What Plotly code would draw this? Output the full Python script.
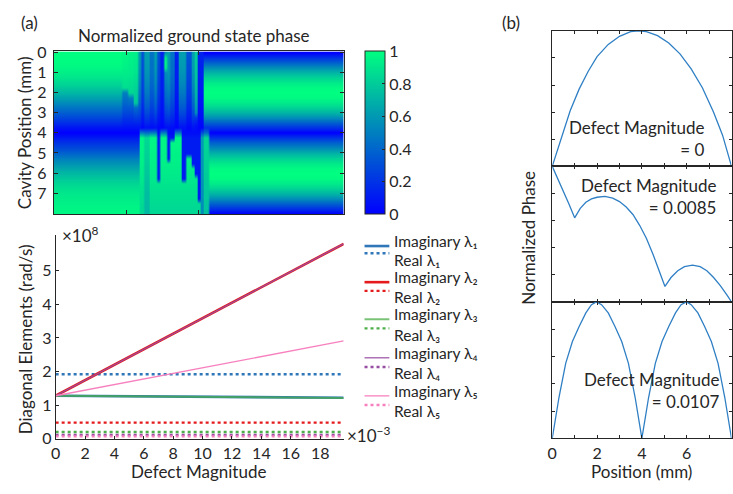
import numpy as np
import plotly.graph_objects as go

W, H = 733, 494
FONT = "Lato"
TXT = "#262626"


def px(x):
    return x / W


def py(y):
    return 1 - y / H


# ---------------- (a) top: normalized ground state phase heatmap ----------------
positions_mm = [0.0, 0.25, 0.5, 0.75, 1.0, 1.25, 1.5, 1.75, 2.0, 2.25, 2.5, 2.75,
                3.0, 3.25, 3.5, 3.75, 4.0, 4.25, 4.5, 4.75, 5.0, 5.25, 5.5, 5.75,
                6.0, 6.25, 6.5, 6.75, 7.0, 7.25, 7.5, 7.75, 8.0]

# top-half profiles (0..4 mm), bottom-half profiles (4..8 mm)
top_profiles = {
    "L":  [1.0, 1.0, 0.99, 0.97, 0.94, 0.9, 0.85, 0.79, 0.72, 0.64, 0.55, 0.46, 0.37, 0.28, 0.18, 0.08, 0.0],
    "S1": [0.97, 0.97, 0.96, 0.95, 0.93, 0.91, 0.89, 0.87, 0.5, 0.45, 0.4, 0.34, 0.28, 0.21, 0.14, 0.07, 0.0],
    "S2": [0.95, 0.95, 0.94, 0.93, 0.92, 0.9, 0.88, 0.86, 0.84, 0.5, 0.42, 0.35, 0.28, 0.21, 0.14, 0.07, 0.0],
    "S3": [0.93, 0.93, 0.92, 0.91, 0.9, 0.88, 0.86, 0.84, 0.82, 0.8, 0.78, 0.42, 0.33, 0.24, 0.15, 0.07, 0.0],
    "T":  [0.62, 0.62, 0.61, 0.6, 0.58, 0.56, 0.54, 0.51, 0.48, 0.44, 0.4, 0.35, 0.29, 0.22, 0.15, 0.07, 0.0],
    "B":  [0.32, 0.32, 0.31, 0.3, 0.29, 0.28, 0.26, 0.25, 0.23, 0.21, 0.19, 0.16, 0.13, 0.1, 0.07, 0.03, 0.0],
    "M":  [0.45, 0.45, 0.44, 0.44, 0.43, 0.41, 0.4, 0.38, 0.35, 0.32, 0.29, 0.25, 0.21, 0.16, 0.11, 0.05, 0.0],
    "D":  [0.13, 0.13, 0.13, 0.12, 0.12, 0.12, 0.11, 0.11, 0.1, 0.09, 0.08, 0.07, 0.06, 0.05, 0.03, 0.02, 0.0],
    "SP": [0.55, 0.92, 0.95, 0.92, 0.55, 0.53, 0.5, 0.47, 0.44, 0.4, 0.36, 0.31, 0.26, 0.2, 0.13, 0.06, 0.0],
    "TG": [0.8, 0.8, 0.79, 0.78, 0.77, 0.76, 0.75, 0.73, 0.71, 0.68, 0.65, 0.6, 0.55, 0.22, 0.12, 0.05, 0.0],
    "R":  [0.0, 0.2, 0.38, 0.56, 0.71, 0.83, 0.92, 0.98, 1.0, 0.98, 0.92, 0.83, 0.71, 0.56, 0.38, 0.2, 0.0],
}
bottom_profiles = {
    "L":  [0.0, 0.1, 0.2, 0.3, 0.4, 0.5, 0.58, 0.66, 0.73, 0.79, 0.84, 0.88, 0.91, 0.93, 0.95, 0.96, 0.97],
    "G":  [0.97, 0.97, 0.96, 0.96, 0.95, 0.95, 0.94, 0.93, 0.92, 0.91, 0.9, 0.89, 0.88, 0.87, 0.86, 0.85, 0.85],
    "G2": [0.86, 0.85, 0.84, 0.83, 0.82, 0.81, 0.8, 0.79, 0.78, 0.77, 0.76, 0.75, 0.74, 0.74, 0.73, 0.73, 0.72],
    "C":  [0.62, 0.62, 0.61, 0.61, 0.6, 0.6, 0.59, 0.59, 0.58, 0.58, 0.57, 0.57, 0.56, 0.56, 0.55, 0.55, 0.55],
    "C2": [0.84, 0.84, 0.83, 0.83, 0.82, 0.82, 0.81, 0.81, 0.8, 0.8, 0.79, 0.79, 0.78, 0.78, 0.77, 0.77, 0.76],
    "R":  [0.0, 0.2, 0.38, 0.56, 0.71, 0.83, 0.92, 0.98, 1.0, 0.98, 0.92, 0.83, 0.71, 0.56, 0.38, 0.2, 0.0],
}
NOTCH_VALUE = 0.1

segment_end = [0.0047, 0.0051, 0.0055, 0.0058, 0.0059, 0.0060, 0.0062, 0.0066, 0.0069,
               0.0071, 0.0073, 0.0076, 0.0078, 0.0080, 0.0083, 0.0086, 0.0088, 0.0091,
               0.0095, 0.0097, 0.0099, 0.0101, 0.0103, 0.0107, 0.0200]
segment_top = ["L", "S1", "S2", "S3", "T", "T", "B", "T", "M", "T", "B", "D", "SP", "T",
               "M", "D", "T", "T", "B", "T", "TG", "D", "D", "R", "R"]
segment_bottom = ["L", "L", "L", "L", "L", "G", "G", "G2", "G", "G", "G", "G", "G", "G",
                  "G", "G", "G", "G", "G", "G", "G", "G", "C", "C2", "R"]
segment_notch = [0, 0, 0, 0, 0, 0, 0, 0, 0, 0, 6.4, 0, 0, 5.4, 4.4, 0, 0, 6.35, 5.2,
                 5.7, 6.2, 7.4, 0, 0, 0]

# heatmap columns every 1e-4 of defect magnitude
col_centers = np.arange(200) * 0.0001 + 0.00005
columns = []
for c in col_centers:
    k = next(i for i, e in enumerate(segment_end) if c < e)
    top = top_profiles[segment_top[k]]
    bot = list(bottom_profiles[segment_bottom[k]])
    d = segment_notch[k]
    if d:
        for j, yv in enumerate(positions_mm[16:]):
            if yv < d:
                bot[j] = NOTCH_VALUE
    columns.append(top[:16] + [(top[16] + bot[0]) / 2] + bot[1:])
z = np.array(columns).T

# ---------------- (a) bottom: diagonal elements ----------------
defect_mag = [0.0, 0.0196]
imag_l1 = [1.28e8, 1.22e8]
imag_l2 = [1.28e8, 5.80e8]
imag_l3 = [1.28e8, 1.21e8]
imag_l4 = [1.28e8, 5.80e8]
imag_l5 = [1.28e8, 2.91e8]
real_vals = [1.92e8, 0.48e8, 0.20e8, 0.115e8, 0.07e8]
lam_colors = ["#2f77b8", "#e41a1c", "#4daf4a", "#984ea3", "#f781bf"]
imag_widths = [2.6, 2.6, 2.0, 1.2, 1.3]
imag_opac = [1, 1, 0.75, 1, 1]
lam_sub = ["₁", "₂", "₃", "₄", "₅"]

# ---------------- (b) normalized phase profiles ----------------
p1_x = [0, 0.4, 0.8, 1.2, 1.6, 2.0, 2.5, 3.0, 3.5, 3.85, 4.2, 4.7, 5.2, 5.7, 6.2, 6.7, 7.2, 7.6, 8.0]
p1_y = [0, 0.21, 0.41, 0.57, 0.70, 0.81, 0.90, 0.96, 0.995, 1.0, 0.995, 0.965, 0.91, 0.83, 0.72, 0.58, 0.40, 0.23, 0]
p2_x = [0, 0.25, 0.5, 0.75, 1.0, 1.25, 1.5, 1.75, 2.0, 2.35, 2.7, 3.0, 3.3, 3.6, 3.9, 4.2, 4.5,
        4.8, 5.03, 5.3, 5.6, 5.9, 6.26, 6.6, 6.9, 7.2, 7.5, 7.8, 8.0]
p2_y = [1.0, 0.91, 0.82, 0.72, 0.62, 0.69, 0.735, 0.76, 0.772, 0.778, 0.765, 0.74, 0.70, 0.645,
        0.565, 0.47, 0.35, 0.22, 0.114, 0.18, 0.23, 0.26, 0.272, 0.26, 0.23, 0.18, 0.12, 0.05, 0.0]
p3_x = [0, 0.3, 0.6, 0.9, 1.2, 1.5, 1.75, 1.97, 2.2, 2.5, 2.8, 3.1, 3.4, 3.7, 4.0,
        4.3, 4.6, 4.9, 5.2, 5.5, 5.75, 5.99, 6.2, 6.5, 6.8, 7.1, 7.4, 7.7, 8.0]
p3_y = [0, 0.3, 0.55, 0.71, 0.82, 0.92, 0.98, 1.0, 0.98, 0.92, 0.82, 0.71, 0.55, 0.3, 0.0,
        0.3, 0.55, 0.71, 0.82, 0.92, 0.98, 1.0, 0.98, 0.92, 0.82, 0.71, 0.55, 0.3, 0.0]
panel_labels = ["Defect Magnitude<br>= 0", "Defect Magnitude<br>= 0.0085", "Defect Magnitude<br>= 0.0107"]

fig = go.Figure()

winter = [[0, "rgb(0,0,255)"], [1, "rgb(0,255,128)"]]
fig.add_trace(go.Heatmap(
    z=z, x=col_centers, y=positions_mm, colorscale=winter, zmin=0, zmax=1,
    zsmooth="best", xaxis="x", yaxis="y", showlegend=False, hoverinfo="skip",
    colorbar=dict(x=px(362), xanchor="left", y=py(128.5), yanchor="middle",
                  len=169 / H, lenmode="fraction", thickness=20, thicknessmode="pixels",
                  outlinecolor=TXT, outlinewidth=1, xpad=0, ypad=0,
                  tickvals=[0, 0.2, 0.4, 0.6, 0.8, 1], ticktext=["0", "0.2", "0.4", "0.6", "0.8", "1"],
                  ticks="inside", ticklen=3, tickcolor=TXT,
                  tickfont=dict(family=FONT, size=16, color=TXT)),
))

imags = [imag_l1, imag_l2, imag_l3, imag_l4, imag_l5]
for i in range(5):
    fig.add_trace(go.Scatter(
        x=defect_mag, y=imags[i], mode="lines", xaxis="x2", yaxis="y2", showlegend=False,
        line=dict(color=lam_colors[i], width=imag_widths[i]), opacity=imag_opac[i],
        name=f"Imaginary λ{i+1}"))
    fig.add_trace(go.Scatter(
        x=defect_mag, y=[real_vals[i], real_vals[i]], mode="lines", xaxis="x2", yaxis="y2",
        showlegend=False, line=dict(color=lam_colors[i], width=2.4, dash="dot"),
        name=f"Real λ{i+1}"))

for k, (xs, ys) in enumerate([(p1_x, p1_y), (p2_x, p2_y), (p3_x, p3_y)]):
    fig.add_trace(go.Scatter(x=xs, y=ys, mode="lines", xaxis=f"x{k+3}", yaxis=f"y{k+3}",
                             line=dict(color="#2f7fc4", width=1.3), showlegend=False,
                             cliponaxis=False))

axis_common = dict(showline=True, linecolor=TXT, linewidth=1, ticks="inside", ticklen=4,
                   tickcolor=TXT, showgrid=False, zeroline=False,
                   tickfont=dict(family=FONT, size=16, color=TXT))

layout = dict(
    width=W, height=H, margin=dict(l=0, r=0, t=0, b=0),
    paper_bgcolor="white", plot_bgcolor="white",
    font=dict(family=FONT, size=16, color=TXT),
    showlegend=False,
    xaxis=dict(axis_common, domain=[px(49), px(341)], range=[0, 0.02], mirror="ticks",
               tickvals=[0.005, 0.01, 0.02], showticklabels=False, anchor="y"),
    yaxis=dict(axis_common, domain=[py(213), py(44)], range=[8.05, -0.05], mirror="ticks",
               tickvals=[0, 1, 2, 3, 4, 5, 6, 7], anchor="x", ticklabelstandoff=3),
    xaxis2=dict(axis_common, domain=[px(51), px(341)], range=[0, 0.0196], anchor="y2",
                tickvals=[0, 0.002, 0.004, 0.006, 0.008, 0.01, 0.012, 0.014, 0.016, 0.018],
                ticktext=["0", "2", "4", "6", "8", "10", "12", "14", "16", "18"], ticklen=3),
    yaxis2=dict(axis_common, domain=[py(446), py(235)], range=[0, 6.05e8], anchor="x2",
                tickvals=[0, 1e8, 2e8, 3e8, 4e8, 5e8], ticktext=["0", "1", "2", "3", "4", "5"],
                ticklen=3),
)
panel_dom = [(22.7, 163.3), (163.3, 304), (304, 445.7)]
for k in range(3):
    t, b = panel_dom[k]
    layout[f"xaxis{k+3}"] = dict(axis_common, domain=[px(551), px(731.5)], range=[0, 8],
                                 anchor=f"y{k+3}", mirror="ticks", ticklen=3,
                                 tickmode="linear", tick0=0, dtick=2,
                                 minor=dict(tickmode="linear", tick0=0, dtick=1, ticks="inside",
                                            ticklen=3, tickcolor=TXT, showgrid=False),
                                 showticklabels=(k == 2))
    layout[f"yaxis{k+3}"] = dict(axis_common, domain=[py(b), py(t)], range=[0, 1],
                                 anchor=f"x{k+3}", mirror="ticks", ticklen=3,
                                 tickvals=[0.2, 0.4, 0.6, 0.8], showticklabels=False)

ann = []
shapes = []


def add_text(text, x, y, size=17, angle=0, xanchor="center", yanchor="middle", align="center"):
    ann.append(dict(text=text, x=px(x), y=py(y), xref="paper", yref="paper", showarrow=False,
                    textangle=angle, xanchor=xanchor, yanchor=yanchor, align=align, borderpad=0,
                    font=dict(family=FONT, size=size, color=TXT)))


add_text("(a)", 15, 14, xanchor="left")
add_text("(b)", 499, 14, xanchor="left")
add_text("Normalized ground state phase", 190, 28)
add_text("Cavity Position (mm)", 19, 128, angle=-90)
add_text("Diagonal Elements (rad/s)", 21, 343, angle=-90)
add_text("×10<sup>8</sup>", 56, 234, xanchor="left")
add_text("×10<sup>−3</sup>", 343, 442, xanchor="left")
add_text("Defect Magnitude", 195, 480)
add_text("Normalized Phase", 527, 237, angle=-90)
add_text("Position (mm)", 641, 480)
label_pos = [(706, 134), (717, 195), (721, 396)]
for (lx, ly), lab in zip(label_pos, panel_labels):
    add_text(lab, lx, ly, xanchor="right", align="right")

# legend (drawn as line swatches + labels)
legend_solid_y = [246, 283.5, 322, 362, 401.5]
legend_dot_y = [253.5, 292.5, 331.5, 371.5, 411]
for i in range(5):
    shapes.append(dict(type="line", xref="paper", yref="paper", x0=px(362), x1=px(387),
                       y0=py(legend_solid_y[i]), y1=py(legend_solid_y[i]),
                       line=dict(color=lam_colors[i], width=imag_widths[i]), opacity=imag_opac[i]))
    shapes.append(dict(type="line", xref="paper", yref="paper", x0=px(362), x1=px(387),
                       y0=py(legend_dot_y[i]), y1=py(legend_dot_y[i]),
                       line=dict(color=lam_colors[i], width=2.4, dash="dot")))
    add_text(f"Imaginary λ{lam_sub[i]}", 391, legend_solid_y[i] - 5, size=15.5, xanchor="left")
    add_text(f"Real λ{lam_sub[i]}", 391, legend_dot_y[i] + 6.5, size=15.5, xanchor="left")

layout["annotations"] = ann
layout["shapes"] = shapes
fig.update_layout(layout)
fig.write_html("out.html", config={"displayModeBar": False},
               post_script="document.body.style.margin='0px';")
